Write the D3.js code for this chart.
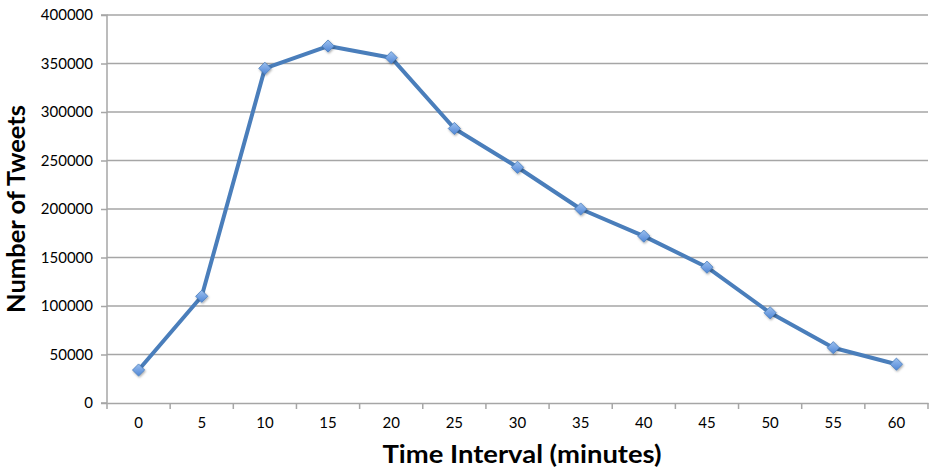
<!DOCTYPE html>
<html><head><meta charset="utf-8">
<script src="https://cdn.jsdelivr.net/npm/d3@7"></script>
<style>body{margin:0;background:#fff}svg{display:block}</style>
</head><body>
<script>
const categories = [0,5,10,15,20,25,30,35,40,45,50,55,60];
const tweets = [34000,110000,345000,368000,356000,283000,243000,200000,172000,140000,93000,57000,40000];
const yTicks = [0,50000,100000,150000,200000,250000,300000,350000,400000];

(function(){
const W=930,H=470, mL=107, mR=928, mT=15, mB=403;
const FONT="Lato, 'Open Sans', sans-serif";
const svg=d3.select("body").append("svg").attr("width",W).attr("height",H);
const defs=svg.append("defs");
const g=defs.append("linearGradient").attr("id","mk").attr("x1",0).attr("y1",0).attr("x2",0).attr("y2",1);
g.append("stop").attr("offset","0%").attr("stop-color","#9cc0ef");
g.append("stop").attr("offset","100%").attr("stop-color","#4f86d6");
const f=defs.append("filter").attr("id","sh").attr("x","-50%").attr("y","-50%").attr("width","200%").attr("height","200%");
f.append("feDropShadow").attr("dx",0.8).attr("dy",1.2).attr("stdDeviation",0.9).attr("flood-color","#000").attr("flood-opacity",0.35);

const x=d3.scaleBand().domain(categories).range([mL,mR]);
const y=d3.scaleLinear().domain([0,400000]).range([mB,mT]);

// gridlines
svg.append("g").selectAll("line").data(yTicks.filter(d=>d>0)).join("line")
 .attr("x1",mL).attr("x2",mR).attr("y1",d=>y(d)).attr("y2",d=>y(d))
 .attr("stroke","#a6a6a6").attr("stroke-width",1.5);

// y axis
const ya=svg.append("g").attr("transform",`translate(${mL},0)`)
 .call(d3.axisLeft(y).tickValues(yTicks).tickSize(6).tickPadding(8).tickFormat(d3.format("d")));
ya.select(".domain").attr("stroke","#a6a6a6").attr("stroke-width",1.5).attr("d",`M-6,${mT}H0V${mB}H-6`);
ya.selectAll(".tick line").attr("stroke","#a6a6a6").attr("stroke-width",1.5);
ya.selectAll("text").attr("font-family",FONT).attr("font-size","15px").attr("fill","#000");

// x axis
const xa=svg.append("g").attr("transform",`translate(0,${mB})`)
 .call(d3.axisBottom(x).tickSize(0).tickPadding(14));
xa.select(".domain").attr("stroke","#a6a6a6").attr("stroke-width",1.5);
xa.selectAll("text").attr("font-family",FONT).attr("font-size","15px").attr("fill","#000");
const bounds=categories.map(c=>x(c)).concat([x(categories[categories.length-1])+x.bandwidth()]);
svg.append("g").selectAll("line").data(bounds).join("line")
 .attr("x1",d=>d).attr("x2",d=>d).attr("y1",mB).attr("y2",mB+6)
 .attr("stroke","#a6a6a6").attr("stroke-width",1.5);

// line
const cx=d=>x(d)+x.bandwidth()/2;
const line=d3.line().x((d,i)=>cx(categories[i])).y(d=>y(d));
svg.append("path").datum(tweets).attr("d",line).attr("fill","none")
 .attr("stroke","#4a7ebb").attr("stroke-width",4).attr("stroke-linejoin","round");

svg.append("g").attr("filter","url(#sh)").selectAll("path").data(tweets).join("path")
 .attr("d",d3.symbol(d3.symbolDiamond2,95)())
 .attr("transform",(d,i)=>`translate(${cx(categories[i])},${y(d)})`)
 .attr("fill","url(#mk)").attr("stroke","#4a7ebb").attr("stroke-width",0.8);

// titles
svg.append("text").attr("x",522).attr("y",463).attr("text-anchor","middle")
 .attr("font-family",FONT).attr("font-weight","bold").attr("font-size","24px")
 .attr("textLength",279).attr("lengthAdjust","spacingAndGlyphs")
 .text("Time Interval (minutes)");
svg.append("text").attr("transform",`translate(25,209) rotate(-90)`).attr("text-anchor","middle")
 .attr("font-family",FONT).attr("font-weight","bold").attr("font-size","24px")
 .attr("textLength",208).attr("lengthAdjust","spacingAndGlyphs")
 .text("Number of Tweets");
})();
</script>
</body></html>
